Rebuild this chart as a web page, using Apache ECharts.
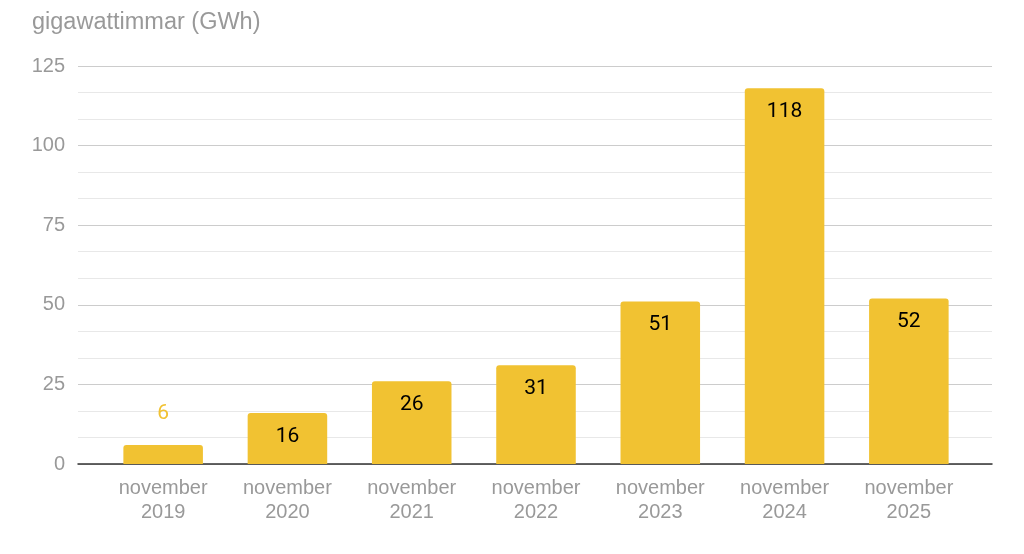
<!DOCTYPE html>
<html><head><meta charset="utf-8">
<script src="https://cdn.jsdelivr.net/npm/echarts@6/dist/echarts.min.js"></script>
<style>html,body{margin:0;padding:0;background:#fff}#c{width:1024px;height:554px}</style>
</head><body><div id="c"></div>
<script>
const categories = ['november\n2019','november\n2020','november\n2021','november\n2022','november\n2023','november\n2024','november\n2025'];
const values = [6, 16, 26, 31, 51, 118, 52];
const yTicks = [0, 25, 50, 75, 100, 125];
const titleText = 'gigawattimmar (GWh)';

const barColor = '#F1C232';
const yMin = yTicks[0], yMax = yTicks[yTicks.length-1];
const chart = echarts.init(document.getElementById('c'));
const data = values.map(v => v < 10 ? {
  value: v,
  label: { position: 'top', distance: 21, color: barColor }
} : v);
chart.setOption({
  animation: false,
  title: { text: titleText, left: 27, top: 6, textStyle: { fontFamily: 'Liberation Sans', fontSize: 23.5, fontWeight: 'normal', color: '#999' } },
  grid: [
    { left: 78, right: 32, top: 66, bottom: 90 },
    { left: 101, right: 53, top: 66, bottom: 90 }
  ],
  xAxis: [
    { type: 'category', gridIndex: 0, data: categories, axisTick: { show: false }, axisLabel: { show: false },
      axisLine: { lineStyle: { color: '#333', width: 1.5 } } },
    { type: 'category', gridIndex: 1, data: categories,
      axisTick: { show: false }, axisLine: { show: false },
      axisLabel: { fontFamily: 'Liberation Sans', fontSize: 20, color: '#999', lineHeight: 24, margin: 12 } }
  ],
  yAxis: [
    { type: 'value', gridIndex: 0, min: yMin, max: yMax, interval: 25,
      axisLabel: { fontFamily: 'Liberation Sans', fontSize: 20, color: '#999', margin: 13 },
      splitLine: { lineStyle: { color: '#ccc', width: 1 } },
      minorTick: { show: false, splitNumber: 3 },
      minorSplitLine: { show: true, lineStyle: { color: '#e8e8e8', width: 1 } } },
    { type: 'value', gridIndex: 1, min: yMin, max: yMax, interval: 25,
      axisLabel: { show: false }, splitLine: { show: false }, axisLine: { show: false } }
  ],
  series: [{
    type: 'bar', xAxisIndex: 1, yAxisIndex: 1, data: data, barWidth: '64%',
    itemStyle: { color: barColor, borderRadius: [3,3,0,0] },
    label: { show: true, position: 'insideTop', distance: 13, fontFamily: 'Roboto', fontSize: 21, color: '#000' }
  }]
});
</script></body></html>
